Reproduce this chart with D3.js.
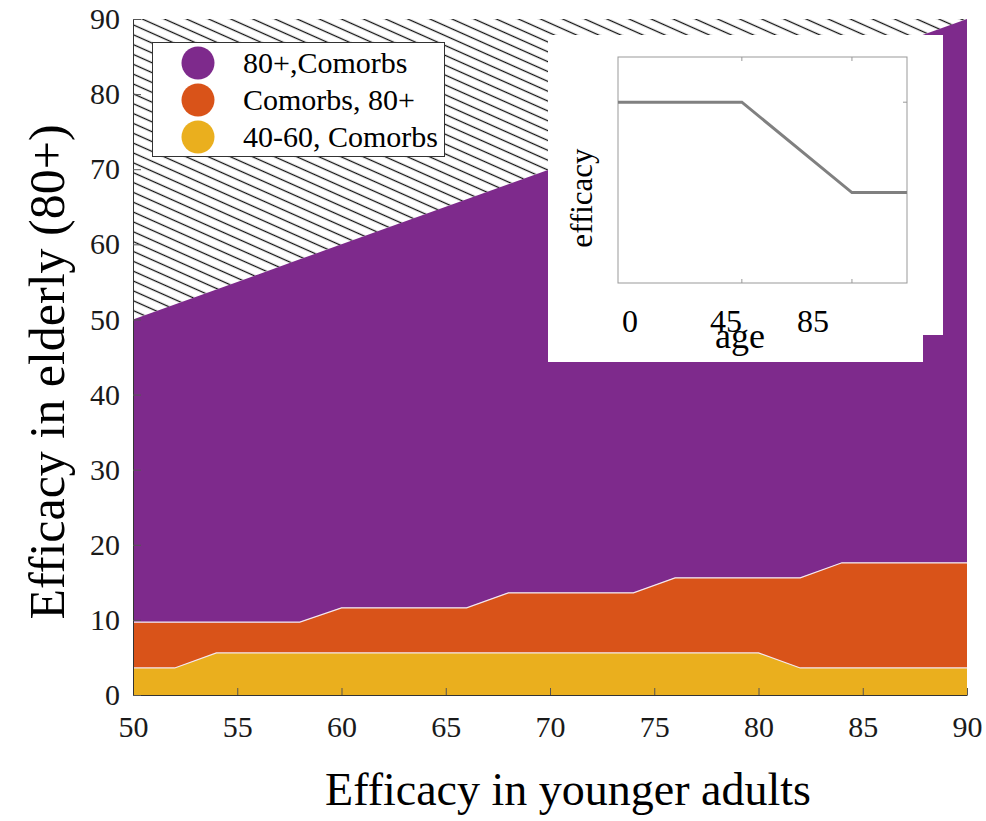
<!DOCTYPE html>
<html>
<head>
<meta charset="utf-8">
<script src="https://cdn.jsdelivr.net/npm/d3@7"></script>
<style>
  body { margin: 0; background: #fff; }
  svg { display: block; font-family: "Liberation Serif", "Times New Roman", serif; }
</style>
</head>
<body>
<svg id="chart" width="986" height="821"></svg>
<script>
// efficacy in younger adults (x)
const effYoung = [50, 52, 54, 56, 58, 60, 62, 64, 66, 68, 70, 72, 74, 76, 78, 80, 82, 84, 86, 88, 90];
// upper boundary of each strategy region (efficacy in elderly)
const top4060 = [3.6, 3.6, 5.6, 5.6, 5.6, 5.6, 5.6, 5.6, 5.6, 5.6, 5.6, 5.6, 5.6, 5.6, 5.6, 5.6, 3.6, 3.6, 3.6, 3.6, 3.6];
const topComorb80 = [9.7, 9.7, 9.7, 9.7, 9.7, 11.6, 11.6, 11.6, 11.6, 13.6, 13.6, 13.6, 13.6, 15.6, 15.6, 15.6, 15.6, 17.6, 17.6, 17.6, 17.6];
const top80Comorb = [50, 52, 54, 56, 58, 60, 62, 64, 66, 68, 70, 72, 74, 76, 78, 80, 82, 84, 86, 88, 90];

const xTicks = [50, 55, 60, 65, 70, 75, 80, 85, 90];
const yTicks = [0, 10, 20, 30, 40, 50, 60, 70, 80, 90];

const legendLabels = ["80+,Comorbs", "Comorbs, 80+", "40-60, Comorbs"];
const colors = ["#7E2A8C", "#D95319", "#EAAF1E"];

// inset: efficacy profile by age
const insetAge = [0, 45, 85, 105];
const insetEff = [0.8, 0.8, 0.4, 0.4];
const insetTicks = [45, 85];
const insetTickLabels = ["0", "45", "85"];

const svg = d3.select("#chart");

const x = d3.scaleLinear().domain([50, 90]).range([133, 967]);
const y = d3.scaleLinear().domain([0, 90]).range([695, 19]);

// hatch pattern for unreachable region
const defs = svg.append("defs");
const pat = defs.append("pattern")
  .attr("id", "hatch")
  .attr("patternUnits", "userSpaceOnUse")
  .attr("width", 10)
  .attr("height", 9)
  .attr("patternTransform", "rotate(24)");
pat.append("line")
  .attr("x1", 0).attr("x2", 10)
  .attr("y1", 4.5).attr("y2", 4.5)
  .attr("stroke", "#111")
  .attr("stroke-width", 1.3);

// hatched triangle above y = x
svg.append("path")
  .attr("d", d3.line()([[x(50), y(50)], [x(50), y(90)], [x(90), y(90)]]) + "Z")
  .attr("fill", "url(#hatch)");

// stacked regions
const idx = d3.range(effYoung.length);
const bands = [
  { lo: idx.map(() => 0), hi: top4060, color: colors[2] },
  { lo: top4060, hi: topComorb80, color: colors[1] },
  { lo: topComorb80, hi: top80Comorb, color: colors[0] },
];
bands.forEach((b) => {
  const area = d3.area()
    .x((i) => x(effYoung[i]))
    .y0((i) => y(b.lo[i]))
    .y1((i) => y(b.hi[i]));
  svg.append("path")
    .attr("d", area(idx))
    .attr("fill", b.color);
});

// thin white boundaries between regions
[top4060, topComorb80].forEach((arr) => {
  svg.append("path")
    .attr("d", d3.line().x((i) => x(effYoung[i])).y((i) => y(arr[i]))(idx))
    .attr("fill", "none")
    .attr("stroke", "#f4e8f0")
    .attr("stroke-width", 1.2);
});

// axes
const xAxis = svg.append("g")
  .attr("transform", "translate(0," + y(0) + ")")
  .call(d3.axisBottom(x).tickValues(xTicks).tickSizeInner(-7).tickSizeOuter(0).tickPadding(20));
const yAxis = svg.append("g")
  .attr("transform", "translate(" + x(50) + ",0)")
  .call(d3.axisLeft(y).tickValues(yTicks).tickSizeInner(-8).tickSizeOuter(0).tickPadding(13));

[xAxis, yAxis].forEach((g) => {
  g.select(".domain").attr("stroke", "#333").attr("stroke-width", 1);
  g.selectAll(".tick line").attr("stroke", "#555");
  g.selectAll(".tick text")
    .attr("fill", "#1a1a1a")
    .style("font-family", '"Liberation Serif", "Times New Roman", serif')
    .style("font-size", "30px");
});
xAxis.selectAll(".tick text").attr("dy", "0.72em");

// axis labels
svg.append("text")
  .attr("x", 568).attr("y", 805)
  .attr("text-anchor", "middle")
  .style("font-size", "46px")
  .text("Efficacy in younger adults");
svg.append("text")
  .attr("transform", "translate(64,372) rotate(-90)")
  .attr("text-anchor", "middle")
  .style("font-size", "50px")
  .text("Efficacy in elderly (80+)");

// legend
const legend = svg.append("g");
legend.append("rect")
  .attr("x", 152.5).attr("y", 42.5)
  .attr("width", 292).attr("height", 114)
  .attr("fill", "#fff")
  .attr("stroke", "#333");
legendLabels.forEach((lab, i) => {
  legend.append("circle")
    .attr("cx", 198).attr("cy", 63 + i * 37)
    .attr("r", 16.5)
    .attr("fill", colors[i]);
  legend.append("text")
    .attr("x", 243).attr("y", 63 + i * 37 + 10)
    .style("font-size", "30px")
    .text(lab);
});

// inset panel
const inset = svg.append("g");
inset.append("rect").attr("x", 548).attr("y", 35).attr("width", 395).attr("height", 300).attr("fill", "#fff");
inset.append("rect").attr("x", 548).attr("y", 35).attr("width", 375).attr("height", 327).attr("fill", "#fff");

const ix = d3.scaleLinear().domain([0, 105]).range([618, 907]);
const iy = d3.scaleLinear().domain([0, 1]).range([283, 57]);

inset.append("rect")
  .attr("x", ix(0)).attr("y", iy(1))
  .attr("width", ix(105) - ix(0)).attr("height", iy(0) - iy(1))
  .attr("fill", "none")
  .attr("stroke", "#999")
  .attr("stroke-width", 1);

insetTicks.forEach((t) => {
  inset.append("line").attr("x1", ix(t)).attr("x2", ix(t)).attr("y1", iy(1)).attr("y2", iy(1) + 4).attr("stroke", "#999");
  inset.append("line").attr("x1", ix(t)).attr("x2", ix(t)).attr("y1", iy(0)).attr("y2", iy(0) - 4).attr("stroke", "#999");
});
[0.4, 0.8].forEach((t) => {
  inset.append("line").attr("x1", ix(105)).attr("x2", ix(105) - 4).attr("y1", iy(t)).attr("y2", iy(t)).attr("stroke", "#999");
});

inset.append("path")
  .attr("d", d3.line().x((d, i) => ix(insetAge[i])).y((d) => iy(d))(insetEff))
  .attr("fill", "none")
  .attr("stroke", "#808080")
  .attr("stroke-width", 3);

// tick labels sit slightly off the ticks in the original
const insetLabelX = [630, 726, 813];
insetTickLabels.forEach((lab, i) => {
  inset.append("text")
    .attr("x", insetLabelX[i]).attr("y", 332)
    .attr("text-anchor", "middle")
    .style("font-size", "32px")
    .text(lab);
});
inset.append("text")
  .attr("x", 740).attr("y", 348)
  .attr("text-anchor", "middle")
  .style("font-size", "36px")
  .text("age");
inset.append("text")
  .attr("transform", "translate(592,198) rotate(-90)")
  .attr("text-anchor", "middle")
  .style("font-size", "31px")
  .text("efficacy");
</script>
</body>
</html>
